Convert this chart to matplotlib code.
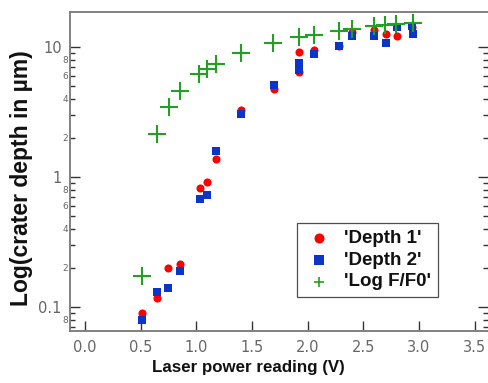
import matplotlib
matplotlib.use("Agg")
import matplotlib.pyplot as plt
import numpy as np
from matplotlib.ticker import LogLocator, FuncFormatter

# data
v_depth1 = [0.51, 0.65, 0.75, 0.85, 1.03, 1.10, 1.18, 1.40, 1.70, 1.92, 1.92,
            2.06, 2.28, 2.40, 2.60, 2.70, 2.80, 2.935]
depth1 = [0.090, 0.117, 0.199, 0.213, 0.82, 0.92, 1.37, 3.27, 4.76, 9.1, 6.4,
          9.5, 10.1, 13.0, 13.5, 12.7, 12.2, 14.3]

v_depth2 = [0.51, 0.65, 0.75, 0.85, 1.03, 1.10, 1.18, 1.40, 1.70, 1.92, 1.92,
            2.06, 2.28, 2.40, 2.60, 2.70, 2.80, 2.935, 2.95]
depth2 = [0.079, 0.130, 0.139, 0.19, 0.68, 0.73, 1.59, 3.06, 5.1, 7.6, 6.7,
          8.8, 10.2, 12.1, 12.1, 10.7, 14.3, 14.5, 12.7]

v_logf = [0.51, 0.644, 0.755, 0.853, 1.024, 1.10, 1.177, 1.40, 1.69, 1.92,
          2.06, 2.28, 2.40, 2.60, 2.695, 2.794, 2.95]
logf = [0.173, 2.13, 3.47, 4.59, 6.2, 6.8, 7.4, 8.94, 10.7, 11.9,
        12.4, 13.3, 13.7, 14.6, 14.8, 15.0, 15.4]

x_ticks = [0.0, 0.5, 1.0, 1.5, 2.0, 2.5, 3.0, 3.5]

W, H = 488, 383
fig = plt.figure(figsize=(W / 100, H / 100), dpi=100)
ax = fig.add_axes([70 / W, 1 - 331 / H, 418 / W, 319 / H])

ax.scatter(v_depth1, depth1, s=34, marker="o", color="#ff0000",
           linewidths=0, label="'Depth 1'", zorder=3)
ax.scatter(v_depth2, depth2, s=40, marker="s", color="#0a35c8",
           linewidths=0, label="'Depth 2'", zorder=4)
ax.scatter(v_logf, logf, s=150, marker="+", color="#22a022",
           linewidths=1.5, label="'Log F/F0'", zorder=5)

ax.set_yscale("log")
ax.set_xlim(-0.135, 3.621)
ax.set_ylim(0.0654, 18.6)
ax.set_xticks(x_ticks)
ax.set_xticklabels([f"{t:.1f}" for t in x_ticks])

ax.yaxis.set_major_locator(LogLocator(base=10, numticks=10))
ax.yaxis.set_minor_locator(LogLocator(base=10, subs=np.arange(2, 10), numticks=20))
ax.yaxis.set_major_formatter(FuncFormatter(lambda v, p: f"{v:g}"))


def minor_fmt(v, p):
    d = int(round(v / 10 ** np.floor(np.log10(v) + 1e-9)))
    return str(d) if d in (2, 4, 6, 8) else ""


ax.yaxis.set_minor_formatter(FuncFormatter(minor_fmt))

for side in ["left", "top", "bottom"]:
    ax.spines[side].set_color("#808080")
    ax.spines[side].set_linewidth(1.4)
ax.spines["right"].set_visible(False)

ax.tick_params(which="both", direction="in", right=True, top=False,
               color="#333333", width=1.0, labelcolor="#666666",
               labelfontfamily="DejaVu Sans")
ax.tick_params(axis="x", which="major", length=7, pad=6.5, labelsize=10.5)
ax.tick_params(axis="y", which="major", length=7, pad=6, labelsize=10.5)
ax.tick_params(axis="y", which="minor", length=3.6, pad=1.5, labelsize=6.5)

ax.set_xlabel("Laser power reading (V)", fontsize=12.2, fontweight="bold",
              family="Liberation Sans", color="#111111")
ax.xaxis.set_label_coords(0.426, -0.09)
ax.set_ylabel("Log(crater depth in µm)", fontsize=16.5, fontweight="bold",
              family="Liberation Sans", color="#111111")
ax.yaxis.set_label_coords(-0.088, 0.48)

leg = fig.legend(loc="lower right", bbox_to_anchor=(438 / W, 1 - 297 / H),
                 borderaxespad=0, frameon=True, fancybox=False,
                 prop={"family": "Liberation Sans", "weight": "bold", "size": 13.5},
                 handletextpad=0.5, labelspacing=0.25, borderpad=0.35,
                 handlelength=1.67)
leg.get_frame().set_edgecolor("#222222")
leg.get_frame().set_linewidth(0.9)
for t in leg.get_texts():
    t.set_color("#111111")
for h in leg.legend_handles:
    h.set_sizes([52])
leg.legend_handles[2].set_linewidths([1.2])

fig.savefig("out.png", dpi=100)
